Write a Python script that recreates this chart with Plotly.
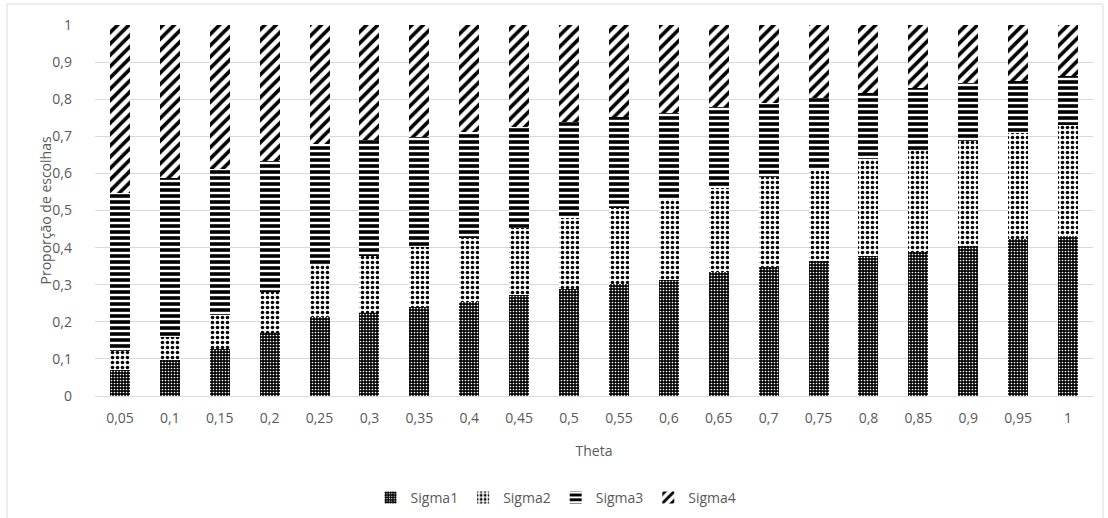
import plotly.graph_objects as go

theta = ["0,05", "0,1", "0,15", "0,2", "0,25", "0,3", "0,35", "0,4", "0,45", "0,5",
         "0,55", "0,6", "0,65", "0,7", "0,75", "0,8", "0,85", "0,9", "0,95", "1"]

sigma1 = [0.070, 0.097, 0.127, 0.169, 0.214, 0.223, 0.239, 0.254, 0.272, 0.288,
          0.301, 0.313, 0.333, 0.349, 0.365, 0.378, 0.389, 0.404, 0.422, 0.431]
sigma2 = [0.050, 0.063, 0.091, 0.112, 0.141, 0.155, 0.163, 0.173, 0.182, 0.191,
          0.205, 0.218, 0.227, 0.242, 0.244, 0.260, 0.274, 0.282, 0.288, 0.299]
sigma3 = [0.426, 0.428, 0.394, 0.352, 0.323, 0.312, 0.297, 0.284, 0.272, 0.260,
          0.247, 0.233, 0.218, 0.198, 0.193, 0.178, 0.166, 0.157, 0.140, 0.132]
sigma4 = [0.454, 0.412, 0.388, 0.367, 0.322, 0.310, 0.301, 0.289, 0.274, 0.261,
          0.247, 0.236, 0.222, 0.211, 0.198, 0.184, 0.171, 0.157, 0.150, 0.138]

series = [
    ("Sigma1", sigma1, dict(shape=".", bgcolor="black", fgcolor="white", size=3, solidity=0.25)),
    ("Sigma2", sigma2, dict(shape=".", bgcolor="white", fgcolor="black", size=5, solidity=0.4)),
    ("Sigma3", sigma3, dict(shape="-", bgcolor="white", fgcolor="black", size=6, solidity=0.6)),
    ("Sigma4", sigma4, dict(shape="/", bgcolor="white", fgcolor="black", size=8, solidity=0.45)),
]

font_family = "Open Sans, Liberation Sans, sans-serif"
grey = "#595959"

fig = go.Figure()
for name, vals, pat in series:
    fig.add_trace(go.Bar(
        x=theta, y=vals, name=name,
        marker=dict(color="white", line=dict(width=0), pattern=dict(fillmode="replace", **pat)),
    ))

fig.update_layout(
    barmode="stack",
    bargap=0.6,
    width=1108, height=518,
    margin=dict(l=95, r=15, t=25, b=122, autoexpand=False),
    paper_bgcolor="white",
    plot_bgcolor="white",
    separators=", ",
    font=dict(family=font_family, size=14, color=grey),
    xaxis=dict(
        title=dict(text="Theta", font=dict(size=14, color=grey), standoff=20),
        showgrid=False, showline=True, linecolor="#d9d9d9", linewidth=1,
        ticks="", ticklabelstandoff=9, tickfont=dict(size=14, color=grey),
    ),
    yaxis=dict(
        range=[0, 1], dtick=0.1, tickformat=".1~f",
        showgrid=True, gridcolor="#d9d9d9", gridwidth=1,
        zeroline=False, showline=False, ticks="", ticklabelstandoff=22,
        tickfont=dict(size=14, color=grey),
    ),
    legend=dict(
        orientation="h", xref="paper", x=0.462, xanchor="center",
        yref="container", y=0.039, yanchor="middle",
        font=dict(size=14, color=grey), itemwidth=30, traceorder="normal",
    ),
    annotations=[dict(
        text="Proporção de escolhas", xref="paper", yref="paper",
        x=-0.0491, y=0.5, xanchor="center", yanchor="middle",
        textangle=-90, showarrow=False, font=dict(size=14, color=grey),
    )],
    shapes=[dict(
        type="rect", xref="paper", yref="paper",
        x0=-0.0882, x1=1.010, y0=-0.40, y1=1.0566,
        line=dict(color="#d9d9d9", width=1), fillcolor="rgba(0,0,0,0)", layer="below",
    )],
)

fig.write_html("out.html")
